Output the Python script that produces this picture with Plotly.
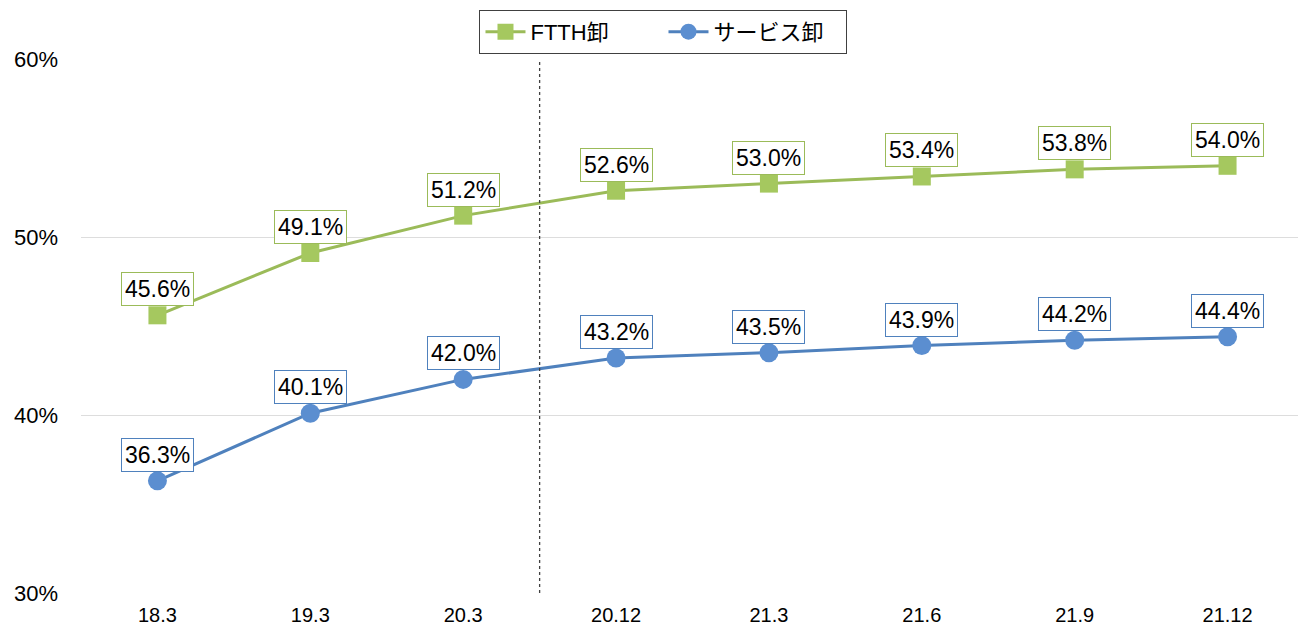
import plotly.graph_objects as go

categories = ["18.3", "19.3", "20.3", "20.12", "21.3", "21.6", "21.9", "21.12"]
ftth = [0.456, 0.491, 0.512, 0.526, 0.530, 0.534, 0.538, 0.540]
service = [0.363, 0.401, 0.420, 0.432, 0.435, 0.439, 0.442, 0.444]
y_ticks = [0.3, 0.4, 0.5, 0.6]
y_tick_labels = ["30%", "40%", "50%", "60%"]
divider_after = "20.3"

GREEN_LINE = "#9BBB59"
GREEN_MARK = "#A5C85F"
BLUE_LINE = "#4F81BD"
BLUE_MARK = "#5B8ED0"
FONT = "Liberation Sans, Arial, Noto Sans CJK JP, sans-serif"

fig = go.Figure()
fig.add_trace(go.Scatter(
    x=categories, y=ftth, name="FTTH卸", mode="lines+markers",
    line=dict(color=GREEN_LINE, width=3),
    marker=dict(symbol="square", size=18, color=GREEN_MARK),
))
fig.add_trace(go.Scatter(
    x=categories, y=service, name="サービス卸", mode="lines+markers",
    line=dict(color=BLUE_LINE, width=3),
    marker=dict(symbol="circle", size=19, color=BLUE_MARK),
))

for series, border in ((ftth, GREEN_LINE), (service, BLUE_LINE)):
    for i, v in enumerate(series):
        fig.add_annotation(
            x=i, y=v, xref="x", yref="y", text=f"{v*100:.1f}%", showarrow=False,
            yshift=26, bgcolor="white", bordercolor=border, borderwidth=1,
            borderpad=3, font=dict(family=FONT, size=23, color="#000000"),
        )

div_pos = categories.index(divider_after) + 0.5
fig.add_shape(type="line", xref="x", yref="paper", x0=div_pos, x1=div_pos,
              y0=0, y1=0.995, line=dict(color="#404040", width=1.3, dash="dot"))

fig.update_layout(
    width=1298, height=617,
    margin=dict(l=73, r=2, t=51, b=32, autoexpand=False),
    plot_bgcolor="white", paper_bgcolor="white",
    font=dict(family=FONT, size=20, color="#000000"),
    showlegend=True,
    legend=dict(
        orientation="h", xref="container", x=0.505, xanchor="center",
        yref="container", y=0.997, yanchor="top",
        bordercolor="#404040", borderwidth=1, bgcolor="white",
        font=dict(family=FONT, size=22, color="#000000"),
        itemwidth=40, entrywidth=128, entrywidthmode="pixels",
    ),
    xaxis=dict(
        type="category", range=[-0.5, len(categories) - 0.5],
        showgrid=False, zeroline=False, showline=False, automargin=False,
        ticks="", tickfont=dict(size=20), ticklabelstandoff=8,
    ),
    yaxis=dict(
        range=[0.3, 0.6], tickvals=y_ticks, ticktext=y_tick_labels,
        showgrid=True, gridcolor="#DDDDDD", gridwidth=1.3, zeroline=False,
        showline=False, automargin=False,
        ticks="", tickfont=dict(size=22), ticklabelstandoff=22,
    ),
)

fig.write_html("out.html")
